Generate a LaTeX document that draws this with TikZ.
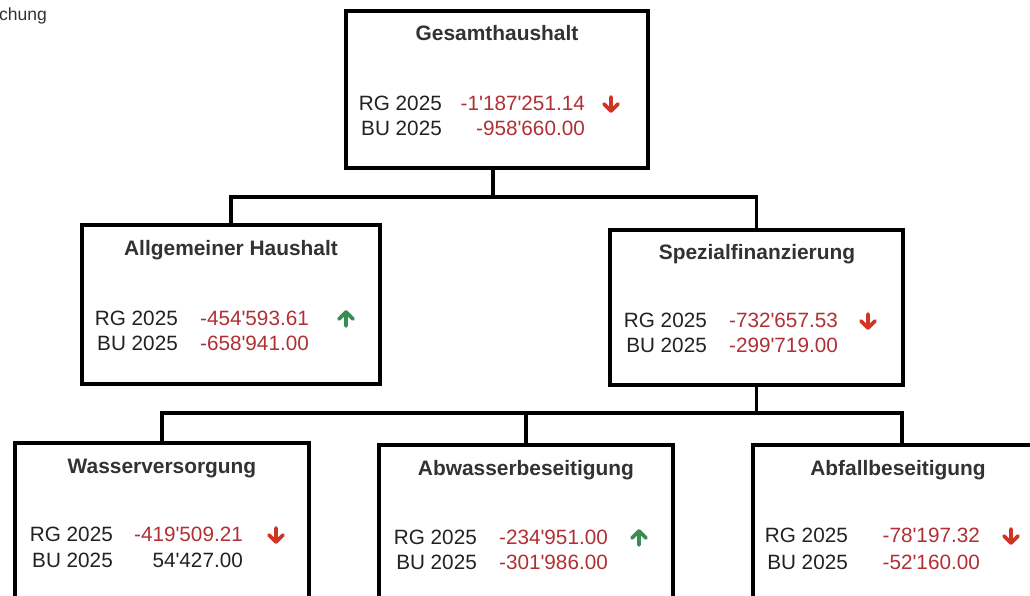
\documentclass[tikz,border=0pt]{standalone}
\usepackage{fontspec}
\setmainfont{Liberation Sans}[Ligatures=TeXOff]
\definecolor{valred}{RGB}{176,48,52}
\definecolor{arrred}{RGB}{208,52,36}
\definecolor{arrgreen}{RGB}{58,140,82}
\definecolor{txtdark}{RGB}{34,34,34}
\definecolor{ttlgray}{RGB}{50,50,50}
\begin{document}
\begin{tikzpicture}[x=1pt,y=-1pt,
  box/.style={draw=black, line width=3.6pt, rectangle, inner sep=0pt},
  conn/.style={draw=black, line width=3.4pt},
  ttl/.style={font=\bfseries\fontsize{20.9}{24}\selectfont, text=ttlgray, inner sep=0pt, text height=15pt, text depth=0pt},
  lab/.style={font=\fontsize{20.7}{25}\selectfont, text=txtdark, anchor=east, inner sep=0pt, text height=15pt, text depth=0pt},
  val/.style={lab, text=valred},
  dnarr/.pic={\draw[arrred, line width=3.6pt, line cap=round, line join=round] (0,-7) -- (0,7) (-7,0) -- (0,7) -- (7,0);},
  uparr/.pic={\draw[arrgreen, line width=3.6pt, line cap=round, line join=round] (0,7) -- (0,-7) (-7,0) -- (0,-7) -- (7,0);}
]
\useasboundingbox (0,0) rectangle (1030,596);
\clip (0,0) rectangle (1030,596);
\fill[white] (0,0) rectangle (1030,596);

\node[anchor=west, font=\fontsize{17.5}{20}\selectfont, text=ttlgray, inner sep=0pt] (hdr) at (-1,16) {chung};

% boxes
\node[box, minimum width=302pt, minimum height=157pt] (G) at (497,89.5) {};
\node[box, minimum width=298pt, minimum height=159pt] (A) at (231,304.5) {};
\node[box, minimum width=293pt, minimum height=155pt] (S) at (756.5,307.5) {};
\node[box, minimum width=294pt, minimum height=158pt] (W) at (162,522) {};
\node[box, minimum width=294pt, minimum height=158pt] (Ab) at (526,524) {};
\node[box, minimum width=298pt, minimum height=158pt] (Af) at (902,524) {};

% connectors
\coordinate (gj) at (493,197);
\coordinate (sj) at (756.5,413);
\draw[conn] (G.south -| gj) -- (gj);
\draw[conn] (A.north) |- (gj) -| (S.north);
\draw[conn] (S.south) -- (sj);
\draw[conn] (W.north) |- (sj) -| (Af.north);
\draw[conn] (Ab.north) -- (Ab.north |- sj);

% Gesamthaushalt
\node[ttl] (Gt) at (497,33) {Gesamthaushalt};
\node[lab] (Gl1) at (442,103) {RG 2025};
\node[lab] (Gl2) at (442,128) {BU 2025};
\node[val] (Gv1) at (585,103) {-1'187'251.14};
\node[val] (Gv2) at (585,128) {-958'660.00};
\pic (Ga) at (611,104) {dnarr};

% Allgemeiner Haushalt
\node[ttl] (At) at (231,248) {Allgemeiner Haushalt};
\node[lab] (Al1) at (178,318) {RG 2025};
\node[lab] (Al2) at (178,343) {BU 2025};
\node[val] (Av1) at (309,318) {-454'593.61};
\node[val] (Av2) at (309,343) {-658'941.00};
\pic (Aa) at (346,319) {uparr};

% Spezialfinanzierung
\node[ttl] (St) at (757,252) {Spezialfinanzierung};
\node[lab] (Sl1) at (707,320) {RG 2025};
\node[lab] (Sl2) at (707,345) {BU 2025};
\node[val] (Sv1) at (838,320) {-732'657.53};
\node[val] (Sv2) at (838,345) {-299'719.00};
\pic (Sa) at (868,321) {dnarr};

% Wasserversorgung
\node[ttl] (Wt) at (162,466) {Wasserversorgung};
\node[lab] (Wl1) at (113,534) {RG 2025};
\node[lab] (Wl2) at (113,560) {BU 2025};
\node[val] (Wv1) at (243,534) {-419'509.21};
\node[lab] (Wv2) at (243,560) {54'427.00};
\pic (Wa) at (276,535) {dnarr};

% Abwasserbeseitigung
\node[ttl] (Abt) at (526,468) {Abwasserbeseitigung};
\node[lab] (Abl1) at (477,537) {RG 2025};
\node[lab] (Abl2) at (477,562) {BU 2025};
\node[val] (Abv1) at (608,537) {-234'951.00};
\node[val] (Abv2) at (608,562) {-301'986.00};
\pic (Aba) at (639,538) {uparr};

% Abfallbeseitigung
\node[ttl] (Aft) at (898,468) {Abfallbeseitigung};
\node[lab] (Afl1) at (848,535) {RG 2025};
\node[lab] (Afl2) at (848,562) {BU 2025};
\node[val] (Afv1) at (980,535) {-78'197.32};
\node[val] (Afv2) at (980,562) {-52'160.00};
\pic (Afa) at (1011,536) {dnarr};
\end{tikzpicture}
\end{document}
